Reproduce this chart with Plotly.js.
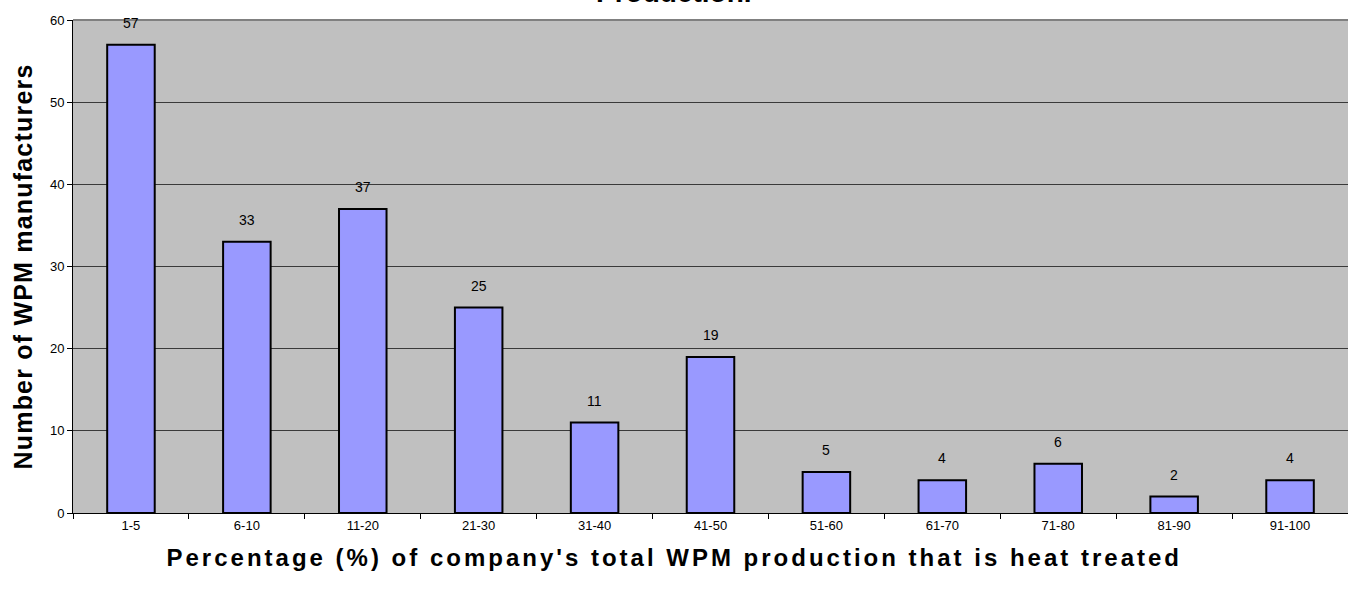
<!DOCTYPE html>
<html><head><meta charset="utf-8">
<script src="https://cdn.plot.ly/plotly-3.0.1.min.js"></script>
<style>
body{margin:0;padding:0;}#chart{width:1348px;height:590px;}
.annotation[data-index="11"] text{letter-spacing:3px;}
.ytitle{letter-spacing:1.2px;}
</style>
</head><body><div id="chart"></div>
<script>
const categories = ["1-5","6-10","11-20","21-30","31-40","41-50","51-60","61-70","71-80","81-90","91-100"];
const counts = [57,33,37,25,11,19,5,4,6,2,4];
const yTicks = [0,10,20,30,40,50,60];

const FONT = 'Arial, Liberation Sans, sans-serif';
const labelAnnotations = categories.map((c,i)=>({
  x: c, y: counts[i], xref:'x', yref:'y', text: String(counts[i]),
  showarrow:false, yanchor:'bottom', yshift:12,
  font:{family:FONT, size:14, color:'#000'}
}));

const data = [{
  type:'bar', x: categories, y: counts,
  marker:{color:'#9999FF', line:{color:'#000', width:2}},
  width:0.41, hoverinfo:'none'
}];

const layout = {
  width:1348, height:590,
  margin:{l:73, r:0, t:20, b:77, pad:0},
  paper_bgcolor:'#fff', plot_bgcolor:'#C0C0C0',
  font:{family:FONT, color:'#000'},
  showlegend:false,
  xaxis:{
    type:'category', tickson:'boundaries', ticks:'outside', ticklen:5, tickcolor:'#000',
    showline:true, linecolor:'#000', linewidth:1, showgrid:false,
    tickfont:{size:13}, range:[-0.5,10.5]
  },
  yaxis:{
    range:[0,60], tickvals:yTicks, ticks:'outside', ticklen:5, tickcolor:'#000',
    showline:true, linecolor:'#000', linewidth:1,
    showgrid:true, gridcolor:'#3a3a3a', gridwidth:1, zeroline:false,
    tickfont:{size:13},
    title:{text:'Number of WPM manufacturers', standoff:10,
      font:{size:25, weight:'bold'}}
  },
  shapes:[{type:'line', xref:'paper', yref:'paper', x0:0, x1:1, y0:1, y1:1, line:{color:'#808080', width:2}}],
  annotations: labelAnnotations.concat([{
    text:"Percentage (%) of company's total WPM production that is heat treated",
    xref:'paper', yref:'paper', x:(674-73)/1275, y:0, yshift:-44, xanchor:'center', yanchor:'middle',
    showarrow:false, font:{size:24, weight:'bold'}
  },{
    text:'Production.',
    xref:'paper', yref:'paper', x:(674-73)/1275, y:1, yshift:28, xanchor:'center', yanchor:'middle',
    showarrow:false, font:{size:28, weight:'bold'}
  }])
};
Plotly.newPlot('chart', data, layout, {displayModeBar:false, staticPlot:true});
</script></body></html>
